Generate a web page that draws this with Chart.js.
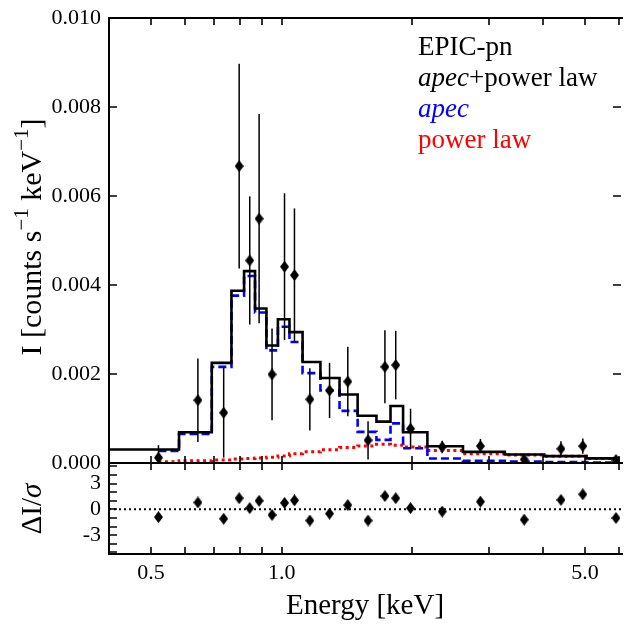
<!DOCTYPE html>
<html>
<head>
<meta charset="utf-8">
<script src="https://cdn.jsdelivr.net/npm/chart.js@4.4.0/dist/chart.umd.min.js"></script>
<style>
  html, body { margin: 0; padding: 0; background: #fff; overflow: hidden; }
  #wrap { position: relative; width: 627px; height: 625px; }
  #wrap canvas { position: absolute; left: 0; top: 0; }
</style>
</head>
<body>
<div id="wrap">
  <canvas id="res" width="627" height="625"></canvas>
  <canvas id="spec" width="627" height="625"></canvas>
</div>
<script>
// model bin edges (keV); the summed model is drawn from the left edge of the plot
const modelEdges = [0.4, 0.58, 0.69, 0.766, 0.819, 0.868, 0.922, 0.98, 1.042, 1.117, 1.228,
  1.359, 1.496, 1.653, 1.781, 1.904, 2.166, 2.616, 3.266, 4.027, 5.035, 6.0];
const componentStart = 0.52;

// model values per bin [counts s^-1 keV^-1]
const totalModel = [0.000302, 0.000691, 0.00225, 0.00387, 0.00431, 0.00347, 0.00264, 0.00323,
  0.00294, 0.00227, 0.00191, 0.00154, 0.00106, 0.00093, 0.00128, 0.00069, 0.000375, 0.00025,
  0.000192, 0.000155, 0.000104];
const apecModel = [0.00027, 0.00065, 0.00216, 0.00376, 0.0042, 0.00338, 0.00253, 0.00306,
  0.00272, 0.00202, 0.00163, 0.00117, 0.0007, 0.00052, 0.00089, 0.00033, 0.0001, 0.00005,
  0.00003, 0.00002, 0.00001];
const powerLawModel = [0.00003, 0.00005, 0.00007, 0.00009, 0.0001, 0.00011, 0.00013, 0.00016,
  0.00021, 0.00025, 0.0003, 0.00035, 0.00038, 0.00042, 0.0004, 0.00036, 0.00028, 0.00021,
  0.00018, 0.00015, 0.0001];

// EPIC-pn data points
const pointE = [0.52, 0.641, 0.735, 0.798, 0.844, 0.887, 0.95, 1.015, 1.07, 1.161, 1.289,
  1.42, 1.581, 1.729, 1.831, 1.981, 2.343, 2.87, 3.62, 4.4, 4.94, 5.89];
const pointI = [0.00012, 0.00141, 0.00113, 0.00667, 0.00455, 0.00549, 0.00199, 0.00441,
  0.00422, 0.00143, 0.00163, 0.00183, 0.00051, 0.00216, 0.0022, 0.00077, 0.00036, 0.00038,
  0.00008, 0.00032, 0.00038, 0.00007];
const pointErr = [0.00028, 0.00094, 0.00101, 0.0023, 0.00144, 0.00235, 0.00103, 0.00165,
  0.0015, 0.0007, 0.00062, 0.00078, 0.00043, 0.00082, 0.00077, 0.00045, 0.00014, 0.00016,
  0.00006, 0.00017, 0.00017, 0.00005];
const residuals = [-0.9, 0.8, -1.1, 1.3, 0.15, 1.0, -0.65, 0.75, 1.05, -1.3, -0.5, 0.5,
  -1.3, 1.55, 1.3, 0.15, -0.25, 0.9, -1.2, 1.1, 1.75, -1.0];

// axes
const xTickMarks = [0.5, 0.6, 0.7, 0.8, 0.9, 1, 2, 3, 4, 5, 6];
const xTickLabels = [0.5, 1, 5];
const yTickMarks = [0, 0.002, 0.004, 0.006, 0.008, 0.010];
const resTickMarks = [-5, -4, -3, -2, -1, 0, 1, 2, 3, 4, 5];
const resTickLabels = [-3, 0, 3];

const SERIF = "'Liberation Serif', 'Times New Roman', serif";
const tickFont = {family: SERIF, size: 22, lineHeight: 0.9};

function stepPoints(edges, vals) {
  let pts = vals.map((v, i) => ({x: edges[i], y: v}));
  pts.push({x: edges[edges.length - 1], y: vals[vals.length - 1]});
  return pts;
}
const componentEdges = [componentStart].concat(modelEdges.slice(1));

// thin diamond marker
const diamond = document.createElement('canvas');
diamond.width = 9; diamond.height = 12;
(function () {
  let c = diamond.getContext('2d');
  c.fillStyle = '#000';
  c.beginPath();
  c.moveTo(4.5, 0); c.lineTo(9, 6); c.lineTo(4.5, 12); c.lineTo(0, 6);
  c.closePath(); c.fill();
})();

function drawPieces(ctx, pieces, size) {
  // pieces: [text, style] where style is '', 'i' (italic) or 's' (superscript)
  let w = 0;
  let fontOf = p => (p[1] === 'i' ? 'italic ' : '') + (p[1] === 's' ? size * 0.7 : size) + 'px ' + SERIF;
  for (const p of pieces) { ctx.font = fontOf(p); w += ctx.measureText(p[0]).width; }
  let x = -w / 2;
  for (const p of pieces) {
    ctx.font = fontOf(p);
    ctx.fillText(p[0], x, p[1] === 's' ? -size * 0.42 : 0);
    x += ctx.measureText(p[0]).width;
  }
}

const panelFrame = {
  id: 'panelFrame',
  afterDatasetsDraw(chart, args, opts) {
    if (opts.panel !== 'top') return;
    const {ctx, chartArea: a, scales: {x, y}} = chart;
    ctx.save();
    ctx.beginPath();
    ctx.rect(a.left, a.top, a.right - a.left, a.bottom - a.top);
    ctx.clip();
    ctx.strokeStyle = '#000';
    ctx.lineWidth = 1.5;
    pointE.forEach((e, i) => {
      const px = x.getPixelForValue(e);
      ctx.beginPath();
      ctx.moveTo(px, y.getPixelForValue(pointI[i] + pointErr[i]));
      ctx.lineTo(px, y.getPixelForValue(pointI[i] - pointErr[i]));
      ctx.stroke();
    });
    ctx.restore();
  },
  afterDraw(chart, args, opts) {
    const {ctx, chartArea: a, scales: {x, y}} = chart;
    ctx.save();
    ctx.strokeStyle = '#000';
    ctx.fillStyle = '#000';
    if (opts.panel === 'bottom') {
      // zero line
      ctx.lineWidth = 2;
      ctx.setLineDash([2, 3]);
      const py0 = y.getPixelForValue(0);
      ctx.beginPath(); ctx.moveTo(a.left, py0); ctx.lineTo(a.right, py0); ctx.stroke();
      ctx.setLineDash([]);
    }
    // frame
    ctx.lineWidth = 2;
    ctx.beginPath();
    ctx.moveTo(a.right + 2, a.top); ctx.lineTo(a.left, a.top);
    ctx.lineTo(a.left, a.bottom); ctx.lineTo(a.right + 2, a.bottom);
    ctx.stroke();
    // inward ticks
    ctx.lineWidth = 1.6;
    ctx.beginPath();
    for (const v of xTickMarks) {
      const px = Math.round(x.getPixelForValue(v));
      ctx.moveTo(px, a.top); ctx.lineTo(px, a.top + 7);
      ctx.moveTo(px, a.bottom); ctx.lineTo(px, a.bottom - 7);
    }
    const marks = opts.panel === 'top' ? yTickMarks : resTickMarks;
    for (const v of marks) {
      const py = Math.round(y.getPixelForValue(v));
      ctx.moveTo(a.left, py); ctx.lineTo(a.left + 8, py);
      if (opts.panel === 'top') { ctx.moveTo(a.right, py); ctx.lineTo(a.right - 8, py); }
    }
    ctx.stroke();

    ctx.textBaseline = 'alphabetic';
    if (opts.panel === 'top') {
      // legend text
      ctx.textAlign = 'left';
      ctx.font = '27px ' + SERIF;
      ctx.fillText('EPIC-pn', 418, 55);
      ctx.font = 'italic 27px ' + SERIF;
      ctx.fillText('apec', 418, 86);
      const w = ctx.measureText('apec').width;
      ctx.font = '27px ' + SERIF;
      ctx.fillText('+power law', 418 + w, 86);
      ctx.fillStyle = '#0000ff';
      ctx.font = 'italic 27px ' + SERIF;
      ctx.fillText('apec', 418, 117);
      ctx.fillStyle = '#ff0000';
      ctx.font = '27px ' + SERIF;
      ctx.fillText('power law', 418, 148);
      // y title
      ctx.fillStyle = '#000';
      ctx.translate(41, 237);
      ctx.rotate(-Math.PI / 2);
      drawPieces(ctx, [['I [counts s', ''], ['\u22121', 's'], [' keV', ''], ['\u22121', 's'], [']', '']], 30);
    } else {
      ctx.textAlign = 'center';
      ctx.font = '29px ' + SERIF;
      ctx.fillText('Energy [keV]', (a.left + a.right) / 2, 614);
      ctx.textAlign = 'left';
      ctx.translate(41, 509);
      ctx.rotate(-Math.PI / 2);
      drawPieces(ctx, [['\u0394I/', ''], ['\u03c3', 'i']], 29);
    }
    ctx.restore();
  }
};

const xScale = {
  type: 'logarithmic',
  min: 0.4,
  max: 6.05,
  grid: {display: false, drawTicks: false},
  border: {display: false},
};

new Chart(document.getElementById('spec'), {
  type: 'line',
  data: {
    datasets: [
      {
        label: 'EPIC-pn',
        type: 'scatter',
        data: pointE.map((e, i) => ({x: e, y: pointI[i]})),
        pointStyle: diamond,
        pointRadius: 5,
        order: 0,
      },
      {
        label: 'apec+power law',
        data: stepPoints(modelEdges, totalModel),
        stepped: true,
        borderColor: '#000',
        borderWidth: 2.6,
        pointRadius: 0,
        order: 1,
      },
      {
        label: 'apec',
        data: stepPoints(componentEdges, apecModel),
        stepped: true,
        borderColor: '#0000ff',
        borderWidth: 2.6,
        borderDash: [8, 4],
        pointRadius: 0,
        order: 2,
      },
      {
        label: 'power law',
        data: stepPoints(componentEdges, powerLawModel),
        stepped: true,
        borderColor: '#ff0000',
        borderWidth: 3,
        borderDash: [3, 3.5],
        pointRadius: 0,
        order: 3,
      },
    ],
  },
  options: {
    responsive: false,
    animation: false,
    events: [],
    layout: {padding: {top: 10, bottom: 162, left: 0, right: 0}},
    plugins: {legend: {display: false}, tooltip: {enabled: false}, panelFrame: {panel: 'top'}},
    scales: {
      x: Object.assign({}, xScale, {display: false}),
      y: {
        min: 0,
        max: 0.01,
        afterFit: s => { s.width = 109; },
        afterBuildTicks: s => { s.ticks = yTickMarks.map(v => ({value: v})); },
        ticks: {callback: v => v.toFixed(3), font: tickFont, color: '#000', padding: 8},
        grid: {display: false, drawTicks: false},
        border: {display: false},
      },
    },
  },
  plugins: [panelFrame],
});

new Chart(document.getElementById('res'), {
  type: 'scatter',
  data: {
    datasets: [{
      label: 'residuals',
      data: pointE.map((e, i) => ({x: e, y: residuals[i]})),
      pointStyle: diamond,
      pointRadius: 5,
    }],
  },
  options: {
    responsive: false,
    animation: false,
    events: [],
    layout: {padding: {top: 463, bottom: 0, left: 0, right: 0}},
    plugins: {legend: {display: false}, tooltip: {enabled: false}, panelFrame: {panel: 'bottom'}},
    scales: {
      x: Object.assign({}, xScale, {
        afterFit: s => { s.height = 71; },
        afterBuildTicks: s => { s.ticks = xTickLabels.map(v => ({value: v})); },
        ticks: {callback: v => Number(v).toFixed(1), font: tickFont, color: '#000', padding: 9,
          autoSkip: false, maxRotation: 0},
      }),
      y: {
        min: -5.2,
        max: 5.4,
        afterFit: s => { s.width = 109; },
        afterBuildTicks: s => { s.ticks = resTickLabels.map(v => ({value: v})); },
        ticks: {callback: v => String(v), font: tickFont, color: '#000', padding: 8},
        grid: {display: false, drawTicks: false},
        border: {display: false},
      },
    },
  },
  plugins: [panelFrame],
});
</script>
</body>
</html>
